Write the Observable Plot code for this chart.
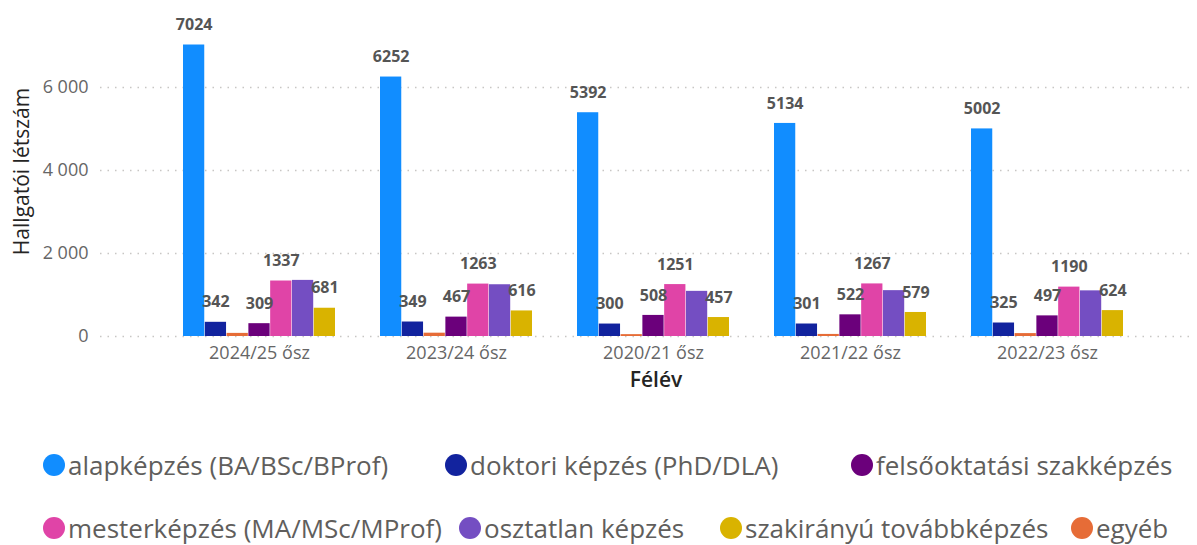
<!DOCTYPE html>
<html>
<head>
<meta charset="utf-8">
<script src="https://cdn.jsdelivr.net/npm/d3@7"></script>
<script src="https://cdn.jsdelivr.net/npm/@observablehq/plot@0.6"></script>
<style>
  html, body { margin: 0; padding: 0; background: #fff; }
  body { width: 1197px; height: 545px; position: relative; overflow: hidden; font-family: "Open Sans", sans-serif; }
  #chart { position: absolute; left: 0; top: 0; }
  .leg { position: absolute; display: flex; align-items: center; font-size: 26px; color: #605e5c; white-space: nowrap; line-height: 1; }
  .leg .dot { width: 22px; height: 22px; border-radius: 50%; margin-right: 3px; flex: none; }
</style>
</head>
<body>
<div id="chart"></div>
<div id="legend"></div>
<script>
const groups = ["2024/25 ősz", "2023/24 ősz", "2020/21 ősz", "2021/22 ősz", "2022/23 ősz"];
const series = ["alapképzés (BA/BSc/BProf)", "doktori képzés (PhD/DLA)", "egyéb", "felsőoktatási szakképzés", "mesterképzés (MA/MSc/MProf)", "osztatlan képzés", "szakirányú továbbképzés"];
const colors = ["#118DFF", "#12239E", "#E66C37", "#6B007B", "#E044A7", "#744EC2", "#D9B300"];
const alap = [7024, 6252, 5392, 5134, 5002];
const doktori = [342, 349, 300, 301, 325];
const egyeb = [75, 80, 45, 50, 70];
const felso = [309, 467, 508, 522, 497];
const mester = [1337, 1263, 1251, 1267, 1190];
const osztatlan = [1352, 1247, 1088, 1105, 1100];
const szakiranyu = [681, 616, 457, 579, 624];
const showLabel = [true, true, false, true, true, false, true];
const yTicks = [0, 2000, 4000, 6000];
const legendRows = [[0, 1, 3], [4, 5, 6, 2]];

const values = [alap, doktori, egyeb, felso, mester, osztatlan, szakiranyu];
const data = [];
series.forEach((s, i) => groups.forEach((g, j) => data.push({group: g, series: s, si: i, value: values[i][j]})));

const W = 1197, H = 400;
const xRange = [137, 1170], xPad = 0.228;
const band = d3.scaleBand().domain(groups).range(xRange).paddingInner(xPad).paddingOuter(xPad);
const bw = band.bandwidth();
const w = bw / series.length;

const fmt = d => d3.format(",")(d).replace(/,/g, " ");

const marks = [
  Plot.ruleY(yTicks, {stroke: "#c8c6c4", strokeDasharray: "1.5,6", strokeWidth: 1.3})
];
series.forEach((s, i) => {
  const sub = data.filter(d => d.si === i);
  marks.push(Plot.barY(sub, {x: "group", y: "value", fill: colors[i], insetLeft: i * w, insetRight: (series.length - 1 - i) * w}));
});
series.forEach((s, i) => {
  if (!showLabel[i]) return;
  const sub = data.filter(d => d.si === i);
  marks.push(Plot.text(sub, {x: "group", y: "value", text: d => String(d.value), dx: -bw / 2 + (i + 0.5) * w, dy: -20, fill: "#555", fontWeight: "bold", fontSize: 16}));
});
marks.push(
  Plot.axisY({ticks: yTicks, tickSize: 0, tickPadding: 12, tickFormat: fmt, label: null, fontSize: 18, color: "#666"}),
  Plot.axisX({tickSize: 0, tickPadding: 10, label: null, fontSize: 18, color: "#666"}),
  Plot.text(["Hallgatói létszám"], {frameAnchor: "left", textAnchor: "middle", text: d => d, rotate: -90, dx: -78, dy: -1, fontSize: 21, fill: "#252423"}),
  Plot.text(["Félév"], {frameAnchor: "bottom", text: d => d, dx: 8, dy: 50, fontSize: 21, fontWeight: 600, fill: "#252423"})
);

const plot = Plot.plot({
  width: W,
  height: H,
  marginLeft: 100,
  marginRight: 2,
  marginTop: 8,
  marginBottom: 64,
  style: {fontFamily: "'Open Sans', sans-serif", background: "white", overflow: "visible"},
  x: {domain: groups, range: xRange, padding: xPad},
  y: {domain: [0, 6000], range: [336, 87]},
  marks
});
document.getElementById("chart").appendChild(plot);

const legPos = [[[54, 465], [456, 465], [862, 465]], [[54, 528], [470, 528], [731, 528], [1082, 528]]];
const legend = document.getElementById("legend");
legendRows.forEach((row, r) => row.forEach((si, k) => {
  const [cx, cy] = legPos[r][k];
  const el = document.createElement("div");
  el.className = "leg";
  el.style.left = (cx - 11) + "px";
  el.style.top = (cy - 13) + "px";
  el.style.height = "26px";
  el.innerHTML = `<span class="dot" style="background:${colors[si]}"></span><span>${series[si]}</span>`;
  legend.appendChild(el);
}));
</script>
</body>
</html>
